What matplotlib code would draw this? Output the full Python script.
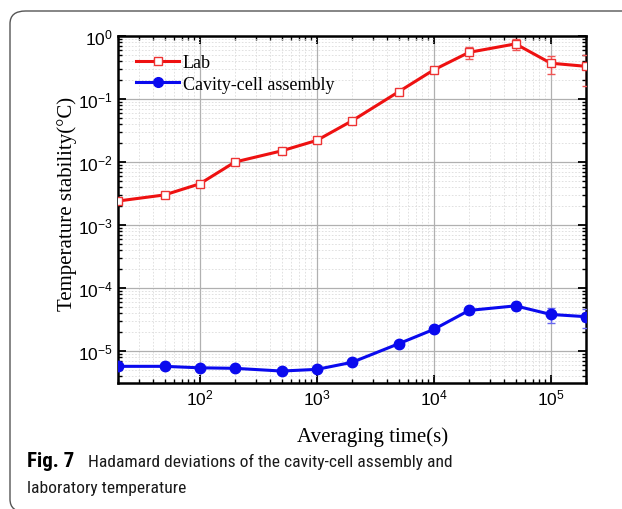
import numpy as np
import matplotlib.pyplot as plt
from matplotlib.patches import FancyBboxPatch
from matplotlib.lines import Line2D
from matplotlib.ticker import LogLocator, NullFormatter

tau = [20, 50, 100, 200, 500, 1e3, 2e3, 5e3, 1e4, 2e4, 5e4, 1e5, 2e5]
lab = [2.4e-3, 3.0e-3, 4.5e-3, 1.0e-2, 1.5e-2, 2.2e-2, 4.5e-2, 0.13, 0.29, 0.55, 0.75, 0.37, 0.33]
lab_err = [1e-4, 1e-4, 2e-4, 4e-4, 6e-4, 1e-3, 2e-3, 8e-3, 1.5e-2, 0.12, 0.15, 0.12, 0.17]
cav = [5.7e-6, 5.7e-6, 5.4e-6, 5.3e-6, 4.8e-6, 5.1e-6, 6.6e-6, 1.3e-5, 2.2e-5, 4.4e-5, 5.2e-5, 3.8e-5, 3.5e-5]
cav_err = [1e-7, 1e-7, 1e-7, 1e-7, 1e-7, 1e-7, 2e-7, 4e-7, 8e-7, 6e-6, 7e-6, 1e-5, 1.2e-5]

plt.rcParams["mathtext.fontset"] = "custom"
plt.rcParams["mathtext.rm"] = "Liberation Sans"
plt.rcParams["mathtext.it"] = "Liberation Sans"
plt.rcParams["mathtext.default"] = "regular"

fig = plt.figure(figsize=(6.22, 5.10), dpi=100)

# rounded frame around the figure, open on the right
frame = FancyBboxPatch((10 / 622, -3 / 510), 1.2, 501 / 510,
                       boxstyle="round,pad=0,rounding_size=0.025",
                       transform=fig.transFigure, fill=False,
                       edgecolor="#555555", linewidth=1.0, clip_on=False)
fig.patches.append(frame)

ax = fig.add_axes([118 / 622, 1 - 384 / 510, 468 / 622, 347 / 510])

red, blue = "#ee1111", "#0a0aee"
ax.errorbar(tau, lab, yerr=lab_err, color=red, lw=2.2, marker="s",
            ms=6, mfc="white", mec="#ee3333", mew=1.0,
            ecolor="#ee5555", elinewidth=1.0, capsize=3, zorder=3)
ax.errorbar(tau, cav, yerr=cav_err, color=blue, lw=2.2, marker="o",
            ms=7.5, mfc=blue, mec=blue,
            ecolor="#6666ee", elinewidth=1.0, capsize=3, zorder=3)

ax.set_xscale("log")
ax.set_yscale("log")
ax.set_xlim(20, 2e5)
ax.set_ylim(3.1e-6, 1)

ax.xaxis.set_major_locator(LogLocator(base=10, numticks=10))
ax.xaxis.set_minor_locator(LogLocator(base=10, subs=np.arange(2, 10), numticks=20))
ax.yaxis.set_major_locator(LogLocator(base=10, numticks=10))
ax.yaxis.set_minor_locator(LogLocator(base=10, subs=np.arange(2, 10), numticks=20))
ax.xaxis.set_minor_formatter(NullFormatter())
ax.yaxis.set_minor_formatter(NullFormatter())

ax.grid(True, which="major", color="#b0b0b0", lw=0.9)
ax.grid(True, which="minor", color="#dcdcdc", lw=0.6, ls=(0, (2, 2)))
ax.set_axisbelow(True)

ax.tick_params(which="both", direction="in", top=True, right=True,
               labelfontfamily="Liberation Sans")
ax.tick_params(which="major", length=6, width=1.3, labelsize=12.5)
ax.tick_params(which="minor", length=3, width=1.0)
for s in ax.spines.values():
    s.set_linewidth(1.8)

ax.set_xlabel("Averaging time(s)", family="Liberation Serif", fontsize=15)
ax.xaxis.set_label_coords(0.543, -0.126)
ax.set_ylabel("Temperature stability(\u00b0C)", family="Liberation Serif", fontsize=15)
ax.yaxis.set_label_coords(-0.088, 0.52)

handles = [Line2D([], [], color=red, lw=2.2, marker="s", ms=6, mfc="white", mec="#ee3333", mew=1.0),
           Line2D([], [], color=blue, lw=2.2, marker="o", ms=7, mfc=blue, mec=blue)]
ax.legend(handles, ["Lab", "Cavity-cell assembly"], loc="upper left", frameon=False,
          prop={"family": "Liberation Serif", "size": 13}, handlelength=2.4,
          borderaxespad=0.4, borderpad=0.6, labelspacing=0.25, handletextpad=0.2)

cap = ["Roboto Condensed", "Open Sans Condensed", "Liberation Sans Narrow", "Lato", "DejaVu Sans"]
fig.text(27 / 622, 1 - 467 / 510, "Fig. 7", family=cap, weight="bold",
         fontsize=15, va="baseline")
fig.text(88 / 622, 1 - 467 / 510, "Hadamard deviations of the cavity-cell assembly and",
         family=cap, fontsize=12.6, va="baseline", color="#1a1a1a")
fig.text(27 / 622, 1 - 493 / 510, "laboratory temperature",
         family=cap, fontsize=12.6, va="baseline", color="#1a1a1a")

fig.savefig("out.png", dpi=100)
